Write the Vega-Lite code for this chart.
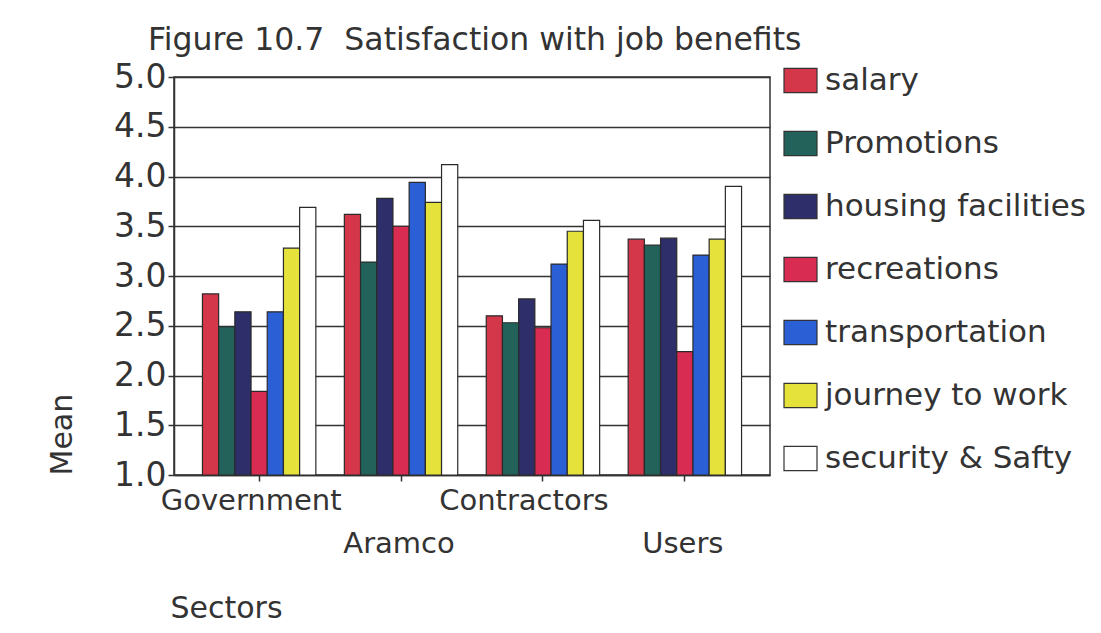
{
  "$schema": "https://vega.github.io/schema/vega-lite/v6.json",
  "autosize": {"type": "none"},
  "padding": {"left": 174, "top": 77, "right": 331, "bottom": 158},
  "width": 596,
  "height": 398,
  "background": "#ffffff",
  "title": {
    "text": "Figure 10.7\u00a0 Satisfaction with job benefits",
    "anchor": "start",
    "frame": "group",
    "dx": -26,
    "offset": 5,
    "font": "DejaVu Sans",
    "fontSize": 31.5,
    "fontWeight": "normal",
    "color": "#333333"
  },
  "data": {
    "values": [
      {"sector": "Government", "benefit": "salary", "mean": 2.82},
      {"sector": "Government", "benefit": "Promotions", "mean": 2.49},
      {"sector": "Government", "benefit": "housing facilities", "mean": 2.64},
      {"sector": "Government", "benefit": "recreations", "mean": 1.84},
      {"sector": "Government", "benefit": "transportation", "mean": 2.64},
      {"sector": "Government", "benefit": "journey to work", "mean": 3.28},
      {"sector": "Government", "benefit": "security & Safty", "mean": 3.69},
      {"sector": "Aramco", "benefit": "salary", "mean": 3.62},
      {"sector": "Aramco", "benefit": "Promotions", "mean": 3.14},
      {"sector": "Aramco", "benefit": "housing facilities", "mean": 3.78},
      {"sector": "Aramco", "benefit": "recreations", "mean": 3.5},
      {"sector": "Aramco", "benefit": "transportation", "mean": 3.94},
      {"sector": "Aramco", "benefit": "journey to work", "mean": 3.74},
      {"sector": "Aramco", "benefit": "security & Safty", "mean": 4.12},
      {"sector": "Contractors", "benefit": "salary", "mean": 2.6},
      {"sector": "Contractors", "benefit": "Promotions", "mean": 2.53},
      {"sector": "Contractors", "benefit": "housing facilities", "mean": 2.77},
      {"sector": "Contractors", "benefit": "recreations", "mean": 2.48},
      {"sector": "Contractors", "benefit": "transportation", "mean": 3.12},
      {"sector": "Contractors", "benefit": "journey to work", "mean": 3.45},
      {"sector": "Contractors", "benefit": "security & Safty", "mean": 3.56},
      {"sector": "Users", "benefit": "salary", "mean": 3.37},
      {"sector": "Users", "benefit": "Promotions", "mean": 3.31},
      {"sector": "Users", "benefit": "housing facilities", "mean": 3.38},
      {"sector": "Users", "benefit": "recreations", "mean": 2.24},
      {"sector": "Users", "benefit": "transportation", "mean": 3.21},
      {"sector": "Users", "benefit": "journey to work", "mean": 3.37},
      {"sector": "Users", "benefit": "security & Safty", "mean": 3.9}
    ]
  },
  "mark": {"type": "bar", "stroke": "#2a2a2a", "strokeWidth": 1.2},
  "encoding": {
    "x": {
      "field": "sector",
      "type": "nominal",
      "sort": ["Government", "Aramco", "Contractors", "Users"],
      "scale": {"paddingInner": 0, "paddingOuter": 0.1},
      "axis": {
        "title": "Sectors",
        "titleAnchor": "start",
        "titleAlign": "left",
        "titleBaseline": "alphabetic",
        "titleX": -4,
        "titleY": 142,
        "titleFont": "DejaVu Sans",
        "titleFontSize": 30,
        "titleFontWeight": "normal",
        "titleColor": "#333333",
        "labelAngle": 0,
        "labelFont": "DejaVu Sans",
        "labelFontSize": 29,
        "labelColor": "#333333",
        "labelLineHeight": 43,
        "labelPadding": 5,
        "labelOverlap": false,
        "labelLimit": 400,
        "labelOffset": {
          "condition": [
            {"test": "datum.value == 'Government'", "value": -8},
            {"test": "datum.value == 'Contractors'", "value": -19}
          ],
          "value": -2
        },
        "labelExpr": "datum.value == 'Aramco' || datum.value == 'Users' ? ['', datum.value] : datum.value",
        "tickColor": "#333333",
        "tickSize": 6,
        "tickWidth": 1.5,
        "domainColor": "#333333",
        "domainWidth": 1.5
      }
    },
    "xOffset": {
      "field": "benefit",
      "type": "nominal",
      "sort": ["salary", "Promotions", "housing facilities", "recreations", "transportation", "journey to work", "security & Safty"],
      "scale": {"paddingInner": 0, "paddingOuter": 0.88}
    },
    "y": {
      "field": "mean",
      "type": "quantitative",
      "scale": {"domain": [1, 5], "nice": false, "zero": false},
      "axis": {
        "title": "Mean",
        "titleAnchor": "start",
        "titleX": -97,
        "titleY": 398,
        "titleFont": "DejaVu Sans",
        "titleFontSize": 30,
        "titleFontWeight": "normal",
        "titleColor": "#333333",
        "values": [1, 1.5, 2, 2.5, 3, 3.5, 4, 4.5, 5],
        "format": ".1f",
        "labelFont": "DejaVu Sans",
        "labelFontSize": 33,
        "labelColor": "#333333",
        "labelPadding": 2,
        "tickColor": "#333333",
        "tickSize": 6,
        "tickWidth": 1.5,
        "domainColor": "#333333",
        "domainWidth": 1.5,
        "grid": true,
        "gridColor": "#333333",
        "gridWidth": 1.5
      }
    },
    "y2": {"datum": 1},
    "color": {
      "field": "benefit",
      "type": "nominal",
      "sort": ["salary", "Promotions", "housing facilities", "recreations", "transportation", "journey to work", "security & Safty"],
      "scale": {
        "domain": ["salary", "Promotions", "housing facilities", "recreations", "transportation", "journey to work", "security & Safty"],
        "range": ["#d4364a", "#22625a", "#2d2e6a", "#d82c52", "#2b5fd6", "#e6e23c", "#ffffff"]
      },
      "legend": {
        "title": null,
        "orient": "none",
        "legendX": 609,
        "legendY": -14,
        "symbolType": "M-1,-0.73H1V0.73H-1Z",
        "symbolSize": 1089,
        "symbolStrokeColor": "#333333",
        "symbolStrokeWidth": 1.2,
        "symbolOpacity": 1,
        "labelFont": "DejaVu Sans",
        "labelFontSize": 31,
        "labelColor": "#333333",
        "labelOffset": 7,
        "labelLimit": 400,
        "rowPadding": 30
      }
    }
  },
  "config": {
    "view": {"stroke": "#333333", "strokeWidth": 1.5}
  }
}
